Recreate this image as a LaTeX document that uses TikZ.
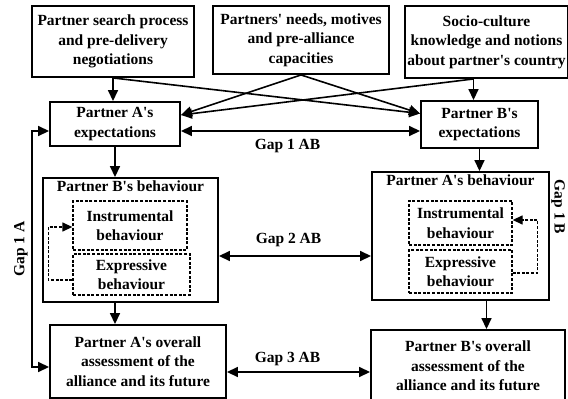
\documentclass[tikz,border=0pt]{standalone}
\usepackage{fontspec}
\setmainfont{Liberation Serif}
\usepackage{tikz}
\usetikzlibrary{arrows.meta, positioning, calc}
\newcommand{\ap}{\textquotesingle}

\begin{document}
\begin{tikzpicture}[
    x=1pt, y=-1pt,
    font=\fontsize{15.5}{19.5}\selectfont\bfseries,
    box/.style={draw, line width=1.9pt, align=center, inner sep=2pt},
    dashbox/.style={draw, line width=1.3pt, dash pattern=on 3pt off 1.6pt,
                    align=center, inner sep=1pt},
    arrow/.style={-{Triangle[length=11pt, width=10pt]}, line width=1.6pt},
    biarrow/.style={{Triangle[length=11pt, width=10pt]}-{Triangle[length=11pt, width=10pt]}, line width=1.6pt},
    feedback/.style={-{Triangle[length=10pt, width=9pt]}, line width=1.3pt,
                     dash pattern=on 3pt off 1.6pt},
]
    \useasboundingbox (0,0) rectangle (568,399);

    % Antecedents
    \node[box, minimum width=162pt, minimum height=71pt] (search) at (113,41.5)
        {Partner search process\\and pre-delivery\\negotiations};
    \node[box, minimum width=176pt, minimum height=68pt] (needs) at (301,40)
        {Partners\ap\ needs, motives\\and pre-alliance\\capacities};
    \node[box, minimum width=159pt, minimum height=72pt] (socio) at (486.5,42)
        {Socio-culture\\knowledge and notions\\about partner\ap s country};

    % Expectations
    \node[box, minimum width=130pt, minimum height=44pt] (expA) at (115,124)
        {Partner A\ap s\\expectations};
    \node[box, minimum width=117pt, minimum height=47pt] (expB) at (479.5,124.5)
        {Partner B\ap s\\expectations};

    % Behaviour
    \node[box, minimum width=175pt, minimum height=124pt,
          label={[anchor=north]north:Partner B\ap s behaviour}] (behB) at (130.5,240) {};
    \node[dashbox, minimum width=114pt, minimum height=49pt] (instrL) at (130,225.5)
        {Instrumental\\behaviour};
    \node[dashbox, minimum width=117pt, minimum height=41pt] (exprL) at (131.5,274.5)
        {Expressive\\behaviour};

    \node[box, minimum width=177pt, minimum height=128pt,
          label={[anchor=north]north:Partner A\ap s behaviour}] (behA) at (460.5,236) {};
    \node[dashbox, minimum width=103pt, minimum height=44pt] (instrR) at (460.5,223)
        {Instrumental\\behaviour};
    \node[dashbox, minimum width=103pt, minimum height=43pt] (exprR) at (460.5,271.5)
        {Expressive\\behaviour};

    % Assessment
    \node[box, minimum width=176pt, minimum height=73pt] (overA) at (138,361.5)
        {Partner A\ap s overall\\assessment of the\\alliance and its future};
    \node[box, minimum width=194pt, minimum height=72pt] (overB) at (468,366)
        {Partner B\ap s overall\\assessment of the\\alliance and its future};

    % Arrows from the antecedents
    \draw[arrow] (search.south) -- (search.south |- expA.north);
    \draw[arrow] (search.south) -- ([yshift=11pt]expB.west);
    \draw[arrow] (needs.south) -- ([yshift=9pt]expA.east);
    \draw[arrow] (needs.south) -- ([yshift=11pt]expB.west);
    \draw[arrow] ($(expB.north |- socio.south)+(-6,0)$) -- ([yshift=9pt]expA.east);
    \draw[arrow] ($(expB.north |- socio.south)+(-6,0)$) -- ($(expB.north)+(-6,0)$);

    % Down the two columns
    \draw[arrow] (expA.south) -- (expA.south |- behB.north);
    \draw[arrow] (expA.south |- behB.south) -- (expA.south |- overA.north);
    \draw[arrow] (expB.south) -- (expB.south |- behA.north);
    \draw[arrow] ($(expB.south |- behA.south)+(7,0)$) -- ($(expB.south |- overB.north)+(7,0)$);

    % Feedback loops
    \draw[feedback] ([yshift=-5.5pt]exprL.west) -- ++(-24,0) |- ([yshift=-1.5pt]instrL.west);
    \draw[feedback] ([yshift=-1.5pt]exprR.east) -- ++(25,0) |- ([yshift=3pt]instrR.east);

    % Gaps
    \draw[biarrow] ([yshift=-7pt]expA.east) -- ([yshift=-7pt]expA.east -| expB.west);
    \draw[biarrow] ([yshift=-16pt]behB.east) -- ([yshift=-16pt]behB.east -| behA.west);
    \draw[biarrow] ([yshift=-10.5pt]overA.east) -- ([yshift=-10.5pt]overA.east -| overB.west);
    \draw[biarrow] ([yshift=-7pt]expA.west) -- ++(-17,0) |- ([yshift=-5.5pt]overA.west);

    \node (gap1ab) at (287.5,146) {Gap 1 AB};
    \node (gap2ab) at (288.5,240) {Gap 2 AB};
    \node (gap3ab) at (287.5,359) {Gap 3 AB};
    \node[rotate=90] (gap1a) at (21,249) {Gap 1 A};
    \node[rotate=-90, inner sep=0pt] (gap1b) at (558,207) {Gap 1 B};
\end{tikzpicture}
\end{document}
